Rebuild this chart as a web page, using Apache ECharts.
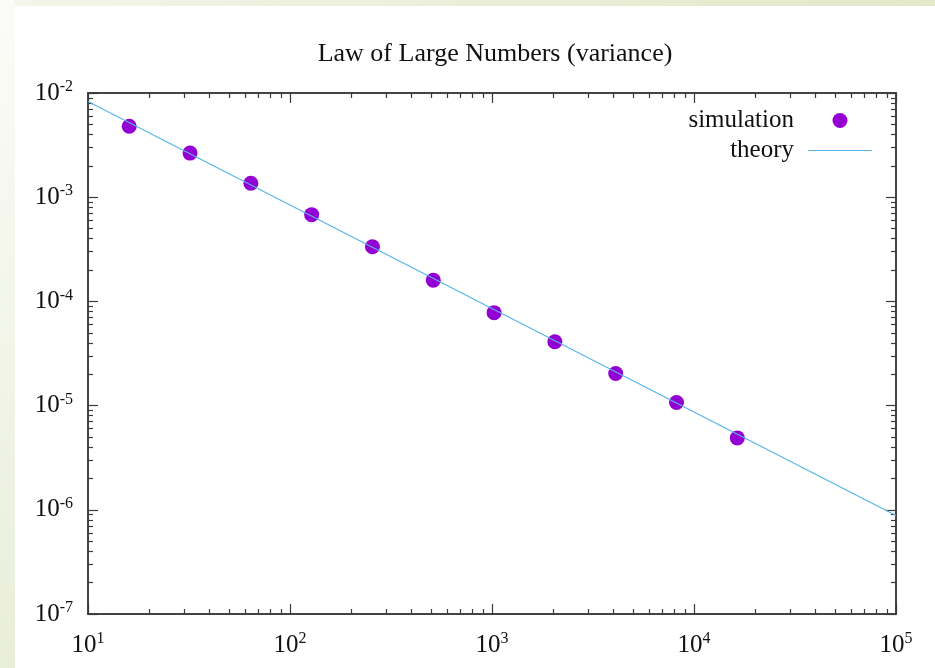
<!DOCTYPE html>
<html>
<head>
<meta charset="utf-8">
<script src="https://cdn.jsdelivr.net/npm/echarts@6/dist/echarts.min.js"></script>
<style>
  html, body { margin: 0; padding: 0; background: #fff; }
  #left { position: absolute; left: 0; top: 0; width: 15px; height: 668px;
          background: linear-gradient(to bottom, #fbfcf8, #e9eed9); }
  #top { position: absolute; left: 15px; top: 0; width: 920px; height: 6px;
         background: linear-gradient(to right, #f3f5ea, #e2e8c8); }
  #chart { position: absolute; left: 0; top: 0; width: 935px; height: 668px; }
</style>
</head>
<body>
<div id="left"></div>
<div id="top"></div>
<div id="chart"></div>
<script>
  // sample sizes and measured variance
  const simN = [16, 32, 64, 128, 256, 512, 1024, 2048, 4096, 8192, 16384];
  const simVar = [4.8e-3, 2.65e-3, 1.36e-3, 6.8e-4, 3.35e-4, 1.6e-4, 7.8e-5, 4.1e-5, 2.03e-5, 1.07e-5, 4.9e-6];

  // theory line endpoints (straight line on log-log)
  const theoryN = [10, 100000];
  const theoryVar = [8.3e-3, 8.8e-7];

  // tick labels
  const xMajor = [10, 100, 1000, 10000, 100000];
  const yMajor = [1e-7, 1e-6, 1e-5, 1e-4, 1e-3, 1e-2];
  const xMinor = [20, 30, 40, 50, 60, 70, 80, 90,
    200, 300, 400, 500, 600, 700, 800, 900,
    2000, 3000, 4000, 5000, 6000, 7000, 8000, 9000,
    20000, 30000, 40000, 50000, 60000, 70000, 80000, 90000];
  const yMinor = [2e-7, 3e-7, 4e-7, 5e-7, 6e-7, 7e-7, 8e-7, 9e-7,
    2e-6, 3e-6, 4e-6, 5e-6, 6e-6, 7e-6, 8e-6, 9e-6,
    2e-5, 3e-5, 4e-5, 5e-5, 6e-5, 7e-5, 8e-5, 9e-5,
    2e-4, 3e-4, 4e-4, 5e-4, 6e-4, 7e-4, 8e-4, 9e-4,
    2e-3, 3e-3, 4e-3, 5e-3, 6e-3, 7e-3, 8e-3, 9e-3];

  const FONT = "'Liberation Serif', 'DejaVu Serif', serif";
  const AXIS_COLOR = "#3a3a3a";

  const powLabel = (v) => "{b|10}{s|" + Math.round(Math.log10(v)) + "}";
  const rich = {
    b: { fontFamily: FONT, fontSize: 25, color: "#111", lineHeight: 28 },
    s: { fontFamily: FONT, fontSize: 16, color: "#111", lineHeight: 15, verticalAlign: "top" },
  };

  function logAxis(kind, pos, major, ticks, len, labels) {
    const isX = kind === "x";
    return {
      type: "log",
      logBase: 10,
      position: pos,
      min: isX ? 10 : 1e-7,
      max: isX ? 100000 : 1e-2,
      axisLine: { show: true, lineStyle: { color: AXIS_COLOR, width: 1.5 } },
      axisTick: {
        show: true,
        inside: true,
        length: len,
        customValues: ticks,
        lineStyle: { color: AXIS_COLOR, width: 1.2 },
      },
      minorTick: { show: false },
      splitLine: { show: false },
      axisLabel: labels
        ? {
            show: true,
            customValues: major,
            formatter: powLabel,
            rich: rich,
            margin: isX ? 17 : 15,
          }
        : { show: false },
    };
  }

  const chart = echarts.init(document.getElementById("chart"), null, { renderer: "canvas" });

  chart.setOption({
    backgroundColor: "transparent",
    animation: false,
    title: {
      text: "Law of Large Numbers (variance)",
      left: 490,
      textAlign: "center",
      top: 36,
      textStyle: { fontFamily: FONT, fontSize: 26, fontWeight: "normal", color: "#111" },
    },
    legend: {
      data: [
        { name: "simulation" },
        { name: "theory", icon: "path://M0,0 L64,0 L64,1.2 L0,1.2 Z" },
      ],
      orient: "vertical",
      align: "right",
      right: 58,
      top: 103,
      itemWidth: 64,
      itemHeight: 15,
      itemGap: 5,
      textStyle: { fontFamily: FONT, fontSize: 25, color: "#111", padding: [0, 9, 0, 0] },
    },
    grid: { left: 88, right: 39, top: 93, bottom: 54, containLabel: false },
    xAxis: [
      logAxis("x", "bottom", xMajor, xMajor, 10, true),
      logAxis("x", "bottom", xMajor, xMinor, 5, false),
      logAxis("x", "top", xMajor, xMajor, 10, false),
      logAxis("x", "top", xMajor, xMinor, 5, false),
    ],
    yAxis: [
      logAxis("y", "left", yMajor, yMajor, 10, true),
      logAxis("y", "left", yMajor, yMinor, 5, false),
      logAxis("y", "right", yMajor, yMajor, 10, false),
      logAxis("y", "right", yMajor, yMinor, 5, false),
    ],
    series: [
      {
        name: "simulation",
        type: "scatter",
        xAxisIndex: 0,
        yAxisIndex: 0,
        symbol: "circle",
        symbolSize: 15,
        itemStyle: { color: "#9400d3", opacity: 1 },
        data: simN.map((n, i) => [n, simVar[i]]),
        z: 3,
      },
      {
        name: "theory",
        type: "line",
        xAxisIndex: 0,
        yAxisIndex: 0,
        symbol: "none",
        lineStyle: { color: "#56b4e9", width: 1.1 },
        itemStyle: { color: "#56b4e9" },
        data: theoryN.map((n, i) => [n, theoryVar[i]]),
        z: 4,
      },
    ],
  });
</script>
</body>
</html>
